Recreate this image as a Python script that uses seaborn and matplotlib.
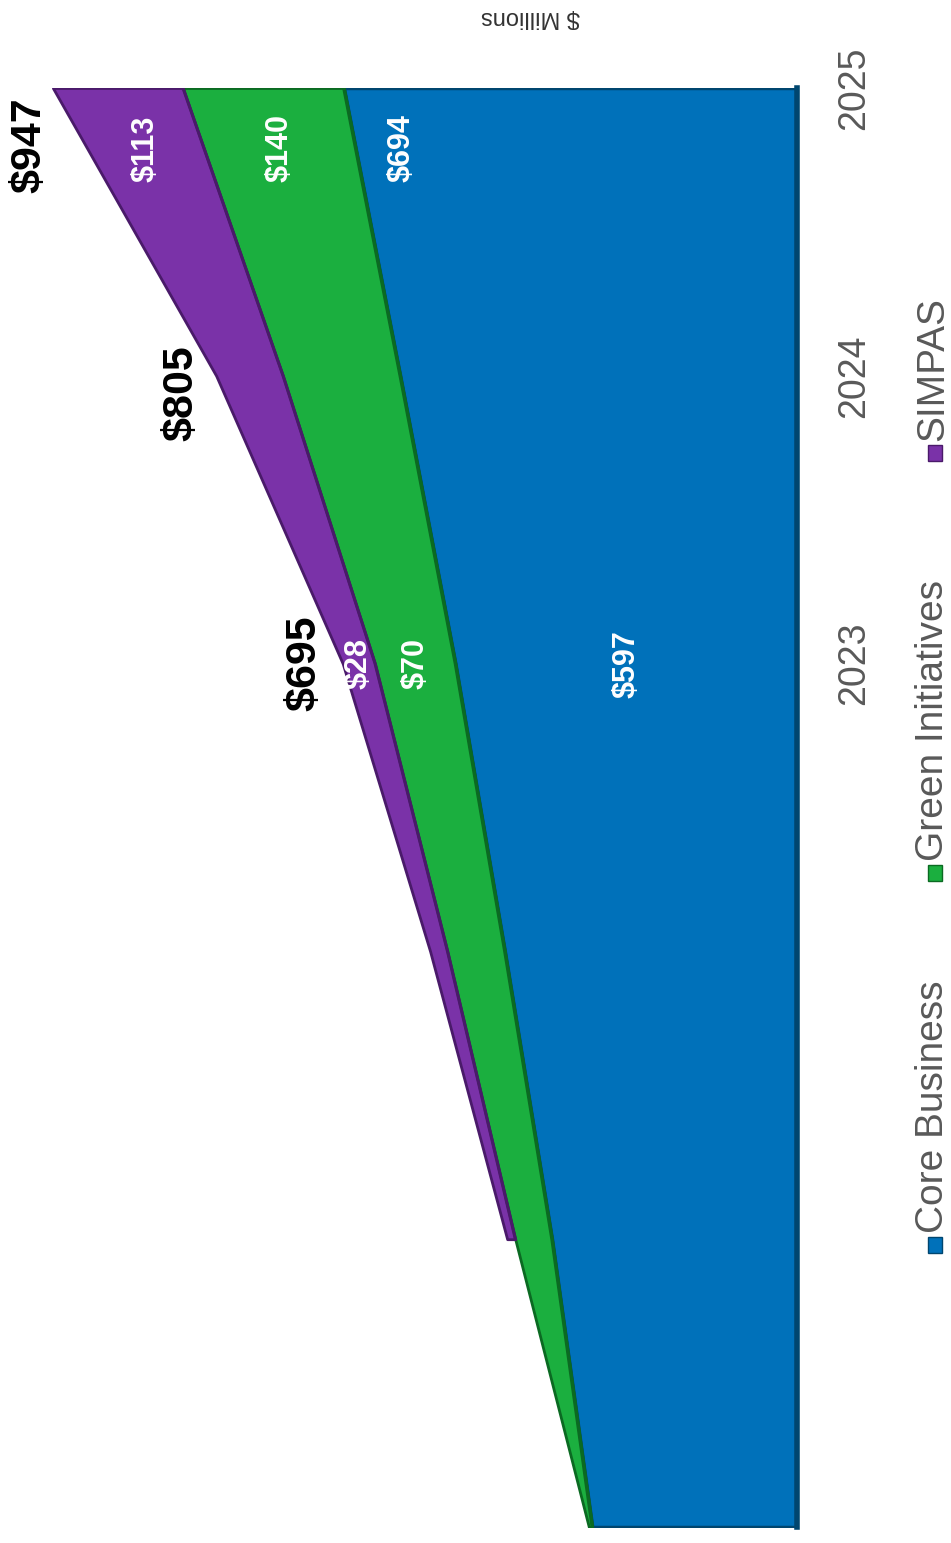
import numpy as np
import matplotlib
matplotlib.use("Agg")
import matplotlib.pyplot as plt
from matplotlib.patches import Rectangle
import seaborn as sns

sns.set_theme(style="white")
plt.rcParams["font.family"] = ["Liberation Sans", "DejaVu Sans"]

# data ($ millions)
years = [2020, 2021, 2022, 2023, 2024, 2025]
core_business = [478, 513, 554, 597, 645, 694]
green_initiatives = [3, 32, 50, 70, 102, 140]
simpas = [np.nan, 7, 15, 28, 58, 113]   # starts in 2021
series_names = ["Core Business", "Green Initiatives", "SIMPAS"]
tick_years = [2023, 2024, 2025]
totals = [695, 805, 947]

colors = ["#0071BA", "#1BAF3F", "#7A32A8"]
dark = ["#00466F", "#0B6A22", "#4A1A6A"]

yr = np.array(years, dtype=float)
c1 = np.array(core_business, dtype=float)
c2 = c1 + np.array(green_initiatives, dtype=float)
c3 = c2 + np.nan_to_num(np.array(simpas, dtype=float))
has_simpas = ~np.isnan(np.array(simpas, dtype=float))

fig = plt.figure(figsize=(9.51, 15.43), dpi=100)
ax = fig.add_axes([0, 16 / 1543, 797 / 951, (1527 - 88) / 1543])

# stacked areas, drawn sideways (values grow to the left)
ax.fill_betweenx(yr, 0, c1, color=colors[0], ec=dark[0], lw=2.5)
ax.fill_betweenx(yr, c1, c2, color=colors[1], ec=dark[1], lw=2)
ax.fill_betweenx(yr[has_simpas], c2[has_simpas], c3[has_simpas],
                 color=colors[2], ec=dark[2], lw=2)
sns.lineplot(x=c1, y=yr, orient="y", sort=False, color=dark[1], lw=2.5, ax=ax)
sns.lineplot(x=c2[has_simpas], y=yr[has_simpas], orient="y", sort=False,
             color=dark[2], lw=2, ax=ax)

ax.set_xlim(993, 300)
ax.set_ylim(2020, 2025)
for s in ["top", "left", "bottom"]:
    ax.spines[s].set_visible(False)
ax.spines["right"].set_color(dark[0])
ax.spines["right"].set_linewidth(4)

ax.set_xticks([])
ax.yaxis.tick_right()
ax.set_yticks(tick_years)
ax.set_yticklabels([str(y) for y in tick_years], rotation=90, va="center",
                   fontsize=27, color="#595959")
ax.tick_params(axis="y", length=0, pad=28)

# totals in bold black, a little outside the stack
total_pos = {2023: (33, 0.0), 2024: (30, -0.06), 2025: (20, -0.2)}
for y, tot in zip(tick_years, totals):
    off, dy = total_pos[y]
    ax.text(tot + off, y + dy, f"${tot}", rotation=90, ha="center", va="center",
            fontsize=31, fontweight="bold", color="black")

# band labels in white
def mid(lo, hi, y):
    return (np.interp(y, yr, lo) + np.interp(y, yr, hi)) / 2

lab = dict(rotation=90, ha="center", va="center", fontsize=22,
           fontweight="bold", color="white")

yl = 2024.79
ax.text(mid(c2, c3, yl), yl, f"${simpas[-1]}", **lab)
ax.text(mid(c1, c2, yl), yl, f"${green_initiatives[-1]}", **lab)
ax.text(np.interp(yl, yr, c1) - 40, yl, f"${core_business[-1]}", **lab)

y23 = 2023.0
ax.text(mid(c2, c3, y23), y23, f"${simpas[3]}", **lab)
ax.text(mid(c1, c2, y23), y23, f"${green_initiatives[3]}", **lab)
ax.text(mid(np.full_like(c1, 300), c1, y23), y23, f"${core_business[3]}", **lab)

# unit label (upside down at the top)
fig.text(530 / 951, 1 - 17 / 1543, "$ Millions", rotation=180, ha="center", va="center",
         fontsize=17, color="#333333")

# legend, drawn by hand so it can read sideways
legend_y = [1245, 873, 453]
for name, col, dk, py in zip(series_names, colors, dark, legend_y):
    fig.add_artist(Rectangle(((935 - 7) / 951, 1 - (py + 8) / 1543), 14 / 951, 16 / 1543,
                             transform=fig.transFigure, facecolor=col, edgecolor=dk, lw=1))
    fig.text(933 / 951, 1 - (py - 12) / 1543, name, rotation=90, ha="center", va="bottom",
             fontsize=28, color="#595959")

fig.savefig("out.png", dpi=100)
